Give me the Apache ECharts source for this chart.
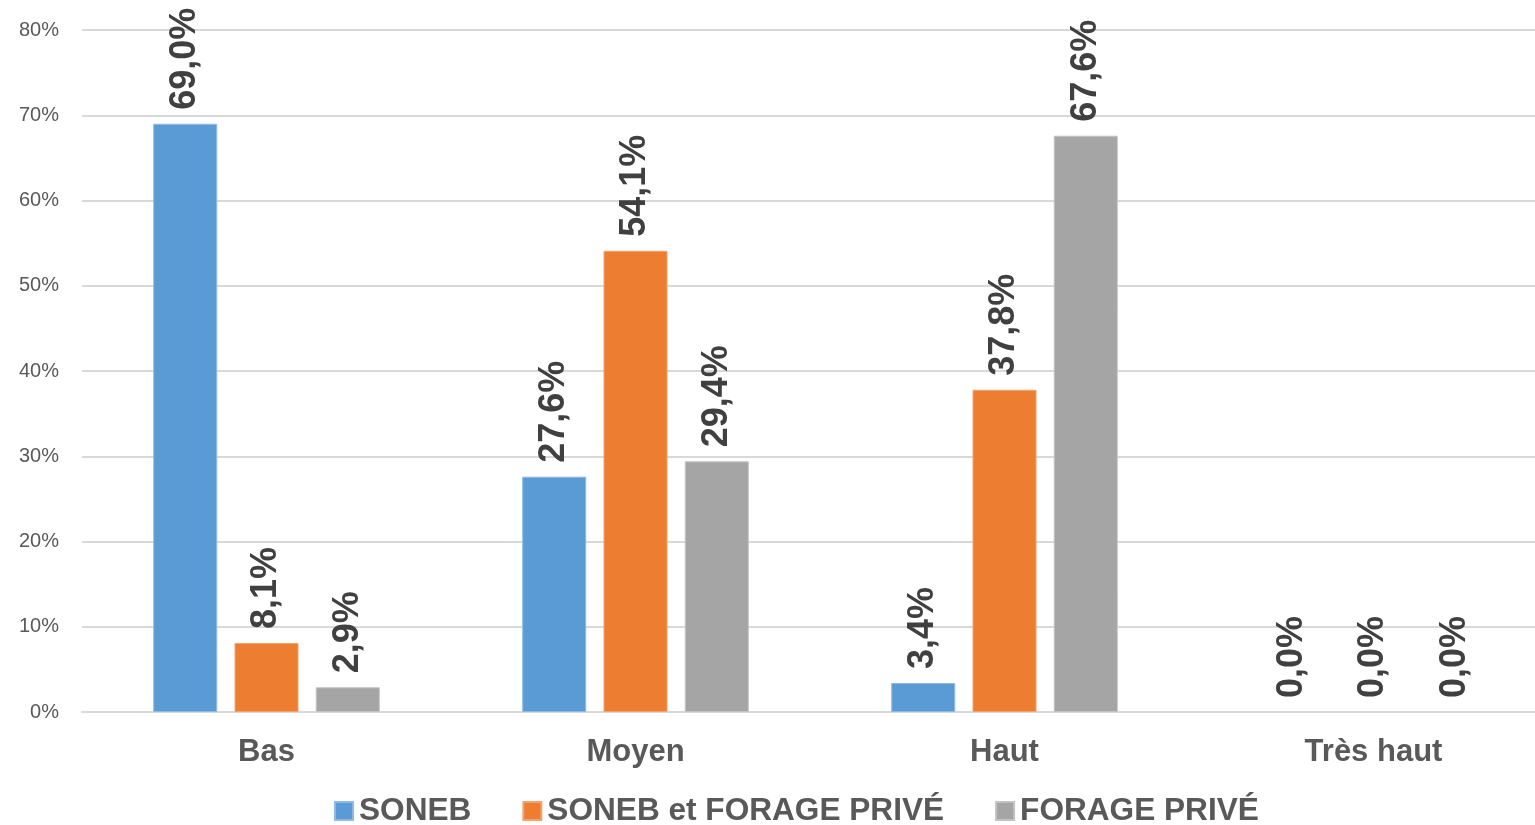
<!DOCTYPE html>
<html>
<head>
<meta charset="utf-8">
<script src="https://cdn.jsdelivr.net/npm/echarts@6/dist/echarts.min.js"></script>
<style>
html,body{margin:0;padding:0;background:#fff;overflow:hidden;width:1535px;height:825px;}
#chart{width:1558px;height:825px;}
</style>
</head>
<body>
<div id="chart"></div>
<script>
const categories = ['Bas', 'Moyen', 'Haut', 'Très haut'];
const seriesNames = ['SONEB', 'SONEB et FORAGE PRIVÉ', 'FORAGE PRIVÉ'];
const soneb = [69.0, 27.6, 3.4, 0.0];
const sonebForage = [8.1, 54.1, 37.8, 0.0];
const forage = [2.9, 29.4, 67.6, 0.0];
const colors = ['#5B9BD5', '#ED7D31', '#A5A5A5'];
const borders = ['#8DB9E3', '#F3A370', '#C2C2C2'];
const yTicks = [0, 10, 20, 30, 40, 50, 60, 70, 80];

const FONT = "'Liberation Sans', Arial, sans-serif";
const chart = echarts.init(document.getElementById('chart'), null, {renderer: 'canvas'});

function mk(name, data, i) {
  return {
    name: name,
    type: 'bar',
    data: data.map(v => v === 0 ? {value: v, itemStyle: {borderWidth: 0, opacity: 0}} : v),
    barWidth: 64,
    barGap: '27%',
    itemStyle: {color: colors[i], borderColor: borders[i], borderWidth: 1},
    label: {
      show: true,
      position: 'top',
      rotate: 90,
      align: 'left',
      verticalAlign: 'middle',
      distance: 14,
      fontFamily: FONT,
      fontSize: 36,
      fontWeight: 'bold',
      color: '#404040',
      opacity: 1,
      formatter: p => p.value.toFixed(1).replace('.', ',') + '%'
    }
  };
}

chart.setOption({
  animation: false,
  backgroundColor: '#fff',
  grid: {left: 82, right: 0, top: 30, bottom: 113, containLabel: false},
  legend: {
    data: seriesNames,
    left: 334,
    top: 795,
    padding: 0,
    icon: 'rect',
    itemWidth: 18,
    itemHeight: 18,
    itemGap: 51,
    textStyle: {fontFamily: FONT, fontSize: 31.6, fontWeight: 'bold', color: '#595959', padding: [0, 0, 0, 1]}
  },
  xAxis: {
    type: 'category',
    data: categories,
    axisLine: {lineStyle: {color: '#D9D9D9', width: 2}},
    axisTick: {show: false},
    axisLabel: {fontFamily: FONT, fontSize: 31, fontWeight: 'bold', color: '#595959', margin: 25}
  },
  yAxis: {
    type: 'value',
    min: yTicks[0],
    max: yTicks[yTicks.length - 1],
    interval: 10,
    axisLine: {show: false},
    axisTick: {show: false},
    splitLine: {lineStyle: {color: '#D9D9D9', width: 2}},
    axisLabel: {fontFamily: FONT, fontSize: 20, color: '#595959', margin: 23, formatter: '{value}%'}
  },
  series: [mk(seriesNames[0], soneb, 0), mk(seriesNames[1], sonebForage, 1), mk(seriesNames[2], forage, 2)]
});
</script>
</body>
</html>
